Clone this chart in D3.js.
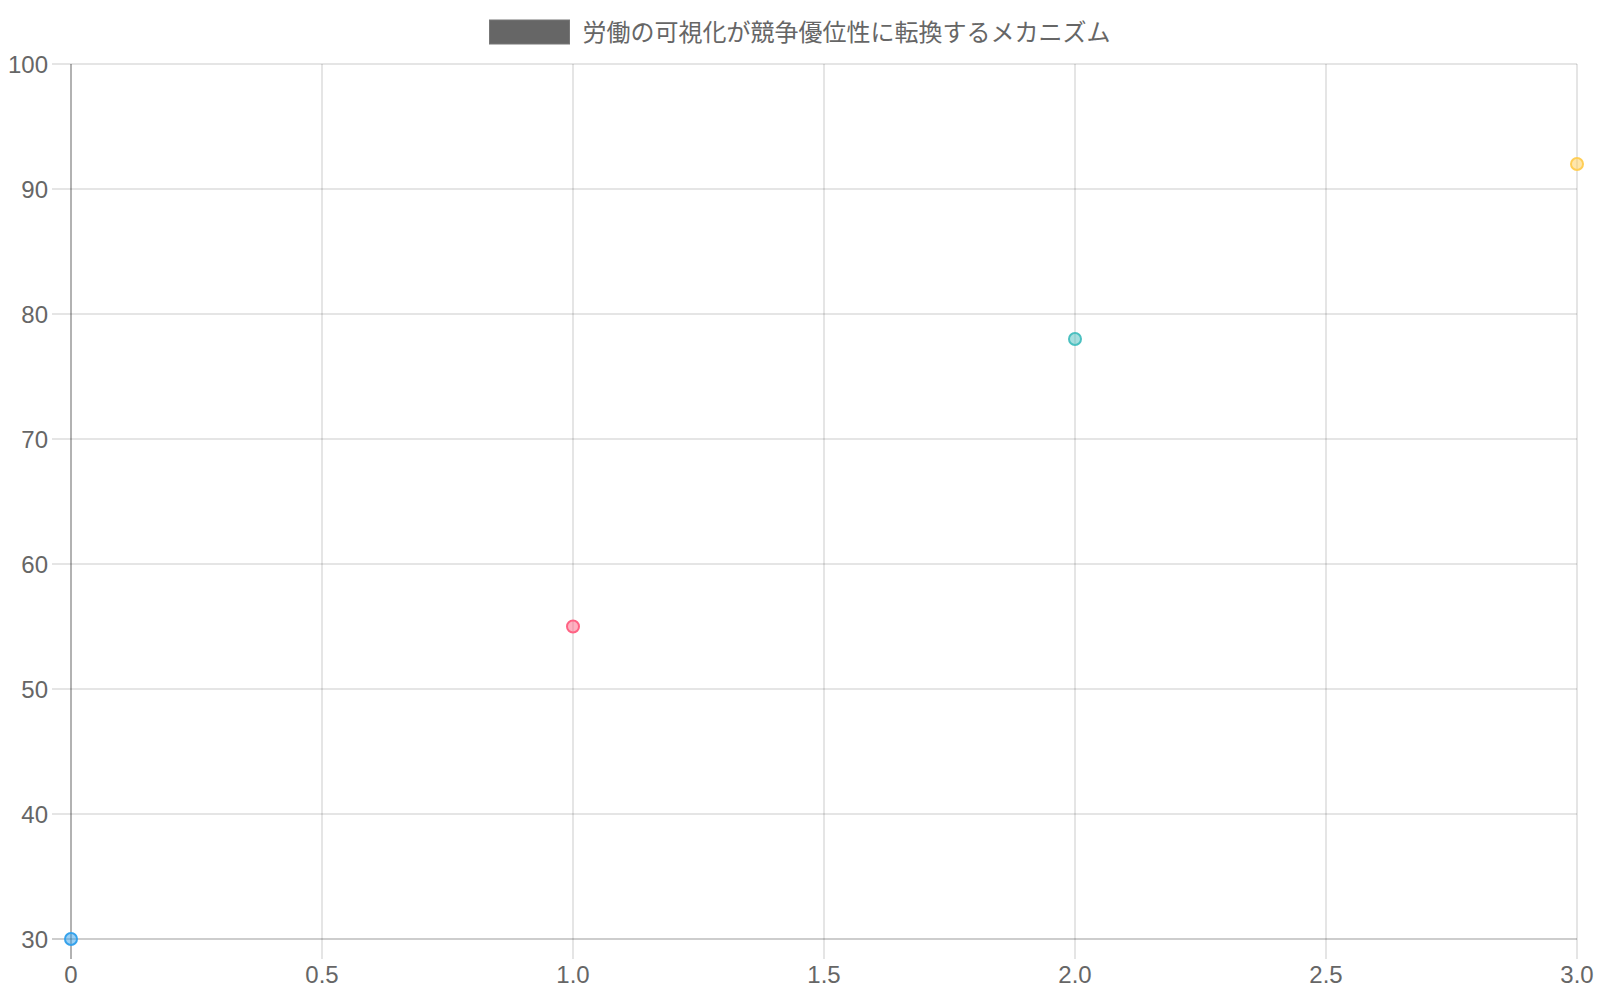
<!DOCTYPE html>
<html>
<head>
<meta charset="utf-8">
<script src="https://cdn.jsdelivr.net/npm/d3@7"></script>
<style>
  html, body { margin: 0; padding: 0; background: #fff; }
  text { font-family: "Liberation Sans", Arial, "Noto Sans CJK JP", sans-serif; fill: #666; }
</style>
</head>
<body>
<svg id="chart"></svg>
<script>
// data
var seriesLabel = "労働の可視化が競争優位性に転換するメカニズム";
var xValues = [0, 1, 2, 3];
var yValues = [30, 55, 78, 92];
var pointColors = ["54,162,235", "255,99,132", "75,192,192", "255,206,86"];
var xTicks = [0, 0.5, 1, 1.5, 2, 2.5, 3];
var yTicks = [30, 40, 50, 60, 70, 80, 90, 100];

var W = 1600, H = 1000;
var margin = {top: 64, right: 23, bottom: 61, left: 71},
    width = W - margin.left - margin.right,
    height = H - margin.top - margin.bottom;
var tickLen = 20;

var svg = d3.select("#chart")
    .attr("width", W)
    .attr("height", H);

var g = svg.append("g")
    .attr("transform", "translate(" + margin.left + "," + margin.top + ")");

var x = d3.scaleLinear().domain([0, 3]).range([0, width]),
    y = d3.scaleLinear().domain([30, 100]).range([height, 0]);

// horizontal grid
g.append("g")
  .selectAll("line")
  .data(yTicks)
  .enter().append("line")
    .attr("x1", -tickLen + 1)
    .attr("x2", width)
    .attr("y1", function(d) { return y(d); })
    .attr("y2", function(d) { return y(d); })
    .attr("stroke", "rgba(0,0,0,0.1)")
    .attr("stroke-width", 2);

// vertical grid
g.append("g")
  .selectAll("line")
  .data(xTicks)
  .enter().append("line")
    .attr("x1", function(d) { return x(d); })
    .attr("x2", function(d) { return x(d); })
    .attr("y1", 0)
    .attr("y2", height + tickLen)
    .attr("stroke", function(d) { return d === 0 ? "rgba(0,0,0,0.3)" : "rgba(0,0,0,0.1)"; })
    .attr("stroke-width", 2);

// bottom border
g.append("line")
    .attr("x1", -tickLen + 1).attr("x2", width)
    .attr("y1", height).attr("y2", height)
    .attr("stroke", "rgba(0,0,0,0.1)")
    .attr("stroke-width", 2);

// y tick labels
g.append("g")
  .selectAll("text")
  .data(yTicks)
  .enter().append("text")
    .attr("x", -23)
    .attr("y", function(d) { return y(d); })
    .attr("dy", "0.36em")
    .attr("text-anchor", "end")
    .style("font-size", "24px")
    .text(function(d) { return d; });

// x tick labels
g.append("g")
  .selectAll("text")
  .data(xTicks)
  .enter().append("text")
    .attr("x", function(d) { return x(d); })
    .attr("y", height + 35)
    .attr("dy", "0.36em")
    .attr("text-anchor", "middle")
    .style("font-size", "24px")
    .text(function(d) { return d === 0 ? "0" : d3.format(".1f")(d); });

// points
g.selectAll(".dot")
  .data(xValues)
  .enter().append("circle")
    .attr("class", "dot")
    .attr("cx", function(d) { return x(d); })
    .attr("cy", function(d, i) { return y(yValues[i]); })
    .attr("r", 6)
    .attr("fill", function(d, i) { return "rgba(" + pointColors[i] + ",0.5)"; })
    .attr("stroke", function(d, i) { return "rgb(" + pointColors[i] + ")"; })
    .attr("stroke-width", 2);

// legend
var legend = svg.append("g");
var label = legend.append("text")
    .attr("y", 32)
    .attr("dy", "0.36em")
    .style("font-size", "24px")
    .text(seriesLabel);
var tw = label.node().getComputedTextLength();
var boxW = 80, gap = 13;
var lx = (W - (boxW + gap + tw)) / 2;
legend.insert("rect", "text")
    .attr("x", lx)
    .attr("y", 20)
    .attr("width", boxW)
    .attr("height", 24)
    .attr("fill", "#666")
    .attr("stroke", "#777")
    .attr("stroke-width", 1);
label.attr("x", lx + boxW + gap);
</script>
</body>
</html>
